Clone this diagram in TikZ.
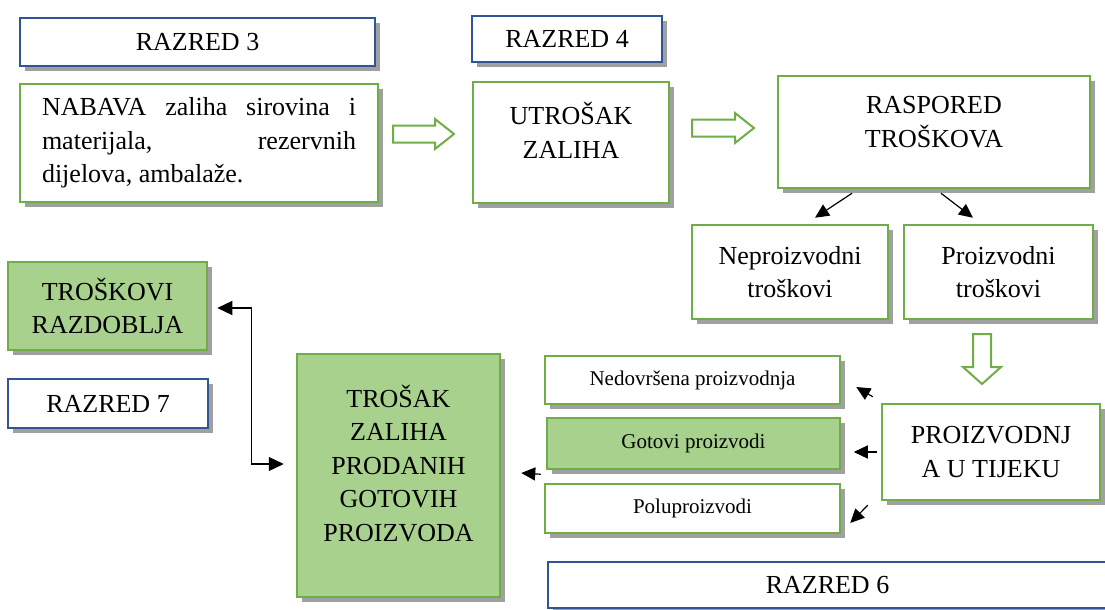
\documentclass[tikz,border=0pt]{standalone}
\usepackage{fontspec}
\setmainfont{Liberation Serif}
\usetikzlibrary{shadows,arrows.meta}
\definecolor{boxGreen}{RGB}{112,173,71}
\definecolor{fillGreen}{RGB}{169,209,142}
\definecolor{boxBlue}{RGB}{47,85,151}
\definecolor{shadowGray}{RGB}{160,160,160}

\begin{document}
\begin{tikzpicture}[x=1pt,y=-1pt]
\tikzstyle{every node}=[font=\fontsize{26}{33.5}\selectfont, text=black, inner sep=0pt]
\tikzstyle{gbox}=[draw=boxGreen, line width=2.5pt, fill=white, align=center,
  drop shadow={shadow xshift=5pt, shadow yshift=-5pt, fill=shadowGray, opacity=1}]
\tikzstyle{bbox}=[gbox, draw=boxBlue, line width=2.2pt]
\tikzstyle{gfill}=[gbox, fill=fillGreen]
\tikzstyle{small}=[font=\fontsize{21}{25}\selectfont]
\tikzstyle{hollow}=[draw=boxGreen, line width=2pt, fill=white]
\tikzstyle{blk}=[-{Triangle[length=14pt,width=13pt]}, line width=1.2pt]

  \useasboundingbox (0,0) rectangle (1105,610);

  % top row
  \node[bbox, minimum width=355pt, minimum height=48pt] (razred3) at (197.5,42) {RAZRED 3};
  \node[gbox, minimum width=358pt, minimum height=118pt, align=left] (nabava) at (199,143)
    {\makebox[314pt][s]{NABAVA zaliha sirovina i}\\\makebox[314pt][s]{materijala, rezervnih}\\dijelova, ambalaže.};
  \node[bbox, minimum width=190pt, minimum height=46pt] (razred4) at (567,39) {RAZRED 4};
  \node[gbox, minimum width=196pt, minimum height=121pt] (utrosak) at (571,142.5) {};
  \node[align=center] (utrosakText) at ([yshift=12pt]utrosak.center) {UTROŠAK\\ZALIHA};
  \node[gbox, minimum width=312pt, minimum height=112pt] (raspored) at (934,132) {};
  \node[align=center] (rasporedText) at ([yshift=10pt]raspored.center) {RASPORED\\TROŠKOVA};

  % block arrows
  \draw[hollow] (393,125.5) -- (435,125.5) -- (435,119) -- (454,134) -- (435,149) -- (435,142.5) -- (393,142.5) -- cycle;
  \draw[hollow] (692,119.5) -- (735,119.5) -- (735,113) -- (754,128) -- (735,143) -- (735,136.5) -- (692,136.5) -- cycle;
  \draw[hollow] (973,334) -- (991,334) -- (991,367) -- (1001,367) -- (982,384) -- (963,367) -- (973,367) -- cycle;

  \node[gbox, minimum width=196pt, minimum height=94pt] (neproizv) at (790,272) {Neproizvodni\\troškovi};
  \node[gbox, minimum width=189pt, minimum height=94pt] (proizv) at (998.5,272) {Proizvodni\\troškovi};

  % left column
  \node[gfill, minimum width=199pt, minimum height=88pt] (razdoblja) at (107.5,306) {TROŠKOVI\\RAZDOBLJA};
  \node[bbox, minimum width=200pt, minimum height=49pt] (razred7) at (108,403.5) {RAZRED 7};
  \node[gfill, minimum width=203pt, minimum height=243pt] (trosak) at (398.5,475.5) {};
  \node[align=center] (trosakText) at ([yshift=12pt]trosak.center) {TROŠAK\\ZALIHA\\PRODANIH\\GOTOVIH\\PROIZVODA};

  % production
  \node[gbox, small, minimum width=295pt, minimum height=48pt] (nedovrsena) at (692.5,380) {Nedovršena proizvodnja};
  \node[gfill, small, minimum width=293pt, minimum height=51pt] (gotovi) at (693.5,443.5) {Gotovi proizvodi};
  \node[gbox, small, minimum width=295pt, minimum height=49pt] (polu) at (692.5,508.5) {Poluproizvodi};
  \node[gbox, minimum width=218pt, minimum height=96pt] (proizvodnja) at (991,452) {PROIZVODNJ\\A U TIJEKU};
  \node[bbox, minimum width=559pt, minimum height=46pt] (razred6) at (827.5,585) {RAZRED 6};

  \draw[blk] ([xshift=-82pt,yshift=-4pt]raspored.south) -- ([xshift=25pt,yshift=6pt]neproizv.north);
  \draw[blk] ([xshift=7pt,yshift=-4pt]raspored.south) -- ([xshift=-25.5pt,yshift=6pt]proizv.north);
  \draw[blk] ([xshift=-8pt,yshift=6pt]proizvodnja.north west) -- ([xshift=15pt,yshift=-7pt]nedovrsena.east);
  \draw[blk] ([xshift=-4pt]proizvodnja.west) -- ([xshift=-27pt]proizvodnja.west);
  \draw[blk] ([xshift=-13pt,yshift=-4pt]proizvodnja.south west) -- ([xshift=9pt,yshift=-14.5pt]polu.east);
  \draw[blk] ([xshift=-5pt,yshift=-4pt]gotovi.south west) -- ([xshift=20pt,yshift=2.5pt]trosak.east);
  \draw[{Triangle[length=15pt,width=14pt]}-{Triangle[length=15pt,width=14pt]}, line width=1.2pt]
    ([xshift=9pt,yshift=-2pt]razdoblja.east) -- ++(34,0) |- ([xshift=-12pt,yshift=11.5pt]trosak.west);

\end{tikzpicture}
\end{document}
